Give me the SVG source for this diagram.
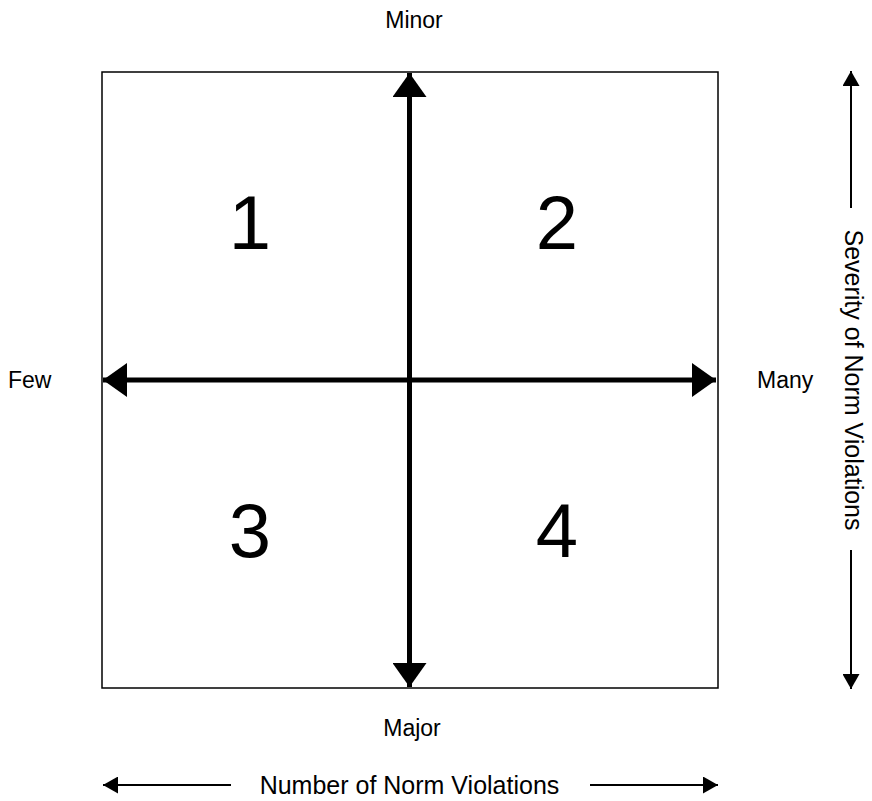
<svg xmlns="http://www.w3.org/2000/svg" width="872" height="801" viewBox="0 0 872 801">
<style>
.t{font-family:"Liberation Sans",Arial,sans-serif;fill:#000}
.lbl{font-size:23px}
.ax{font-size:25px}
.num{font-size:76px;text-anchor:middle}
.thick{stroke:#000;stroke-width:5;fill:none}
.thin{stroke:#000;stroke-width:2;fill:none}
</style>
<defs>
<marker id="big" viewBox="0 0 24 34" refX="24" refY="17" markerWidth="24" markerHeight="34" markerUnits="userSpaceOnUse" orient="auto">
<path d="M0,0 L24,17 L0,34 Z" fill="#000"/>
</marker>
<marker id="small" viewBox="0 0 15 17" refX="15" refY="8.5" markerWidth="15" markerHeight="17" markerUnits="userSpaceOnUse" orient="auto">
<path d="M0,0 L15,8.5 L0,17 Z" fill="#000"/>
</marker>
</defs>
<rect id="frame" x="102" y="72" width="616" height="616" fill="#fff" stroke="#000" stroke-width="1.5"/>
<g id="connectors">
<line class="thick" x1="409.5" y1="380" x2="409.5" y2="73" marker-end="url(#big)"/>
<line class="thick" x1="409.5" y1="380" x2="409.5" y2="687" marker-end="url(#big)"/>
<line class="thick" x1="409.5" y1="380" x2="103" y2="380" marker-end="url(#big)"/>
<line class="thick" x1="409.5" y1="380" x2="716" y2="380" marker-end="url(#big)"/>
<line class="thin" x1="851" y1="208" x2="851" y2="71" marker-end="url(#small)"/>
<line class="thin" x1="851" y1="550" x2="851" y2="689" marker-end="url(#small)"/>
<line class="thin" x1="231" y1="785" x2="103" y2="785" marker-end="url(#small)"/>
<line class="thin" x1="590" y1="785" x2="718" y2="785" marker-end="url(#small)"/>
</g>
<g id="q1"><text class="t num" x="250" y="249">1</text></g>
<g id="q2"><text class="t num" x="557" y="249">2</text></g>
<g id="q3"><text class="t num" x="250" y="557">3</text></g>
<g id="q4"><text class="t num" x="557" y="557">4</text></g>
<g id="minor"><text class="t lbl" x="414" y="28" text-anchor="middle">Minor</text></g>
<g id="major"><text class="t lbl" x="412" y="736" text-anchor="middle">Major</text></g>
<g id="few"><text class="t lbl" x="8" y="388">Few</text></g>
<g id="many"><text class="t lbl" x="757" y="388">Many</text></g>
<g id="xaxis"><text class="t ax" x="409.5" y="794" text-anchor="middle">Number of Norm Violations</text></g>
<g id="yaxis"><text class="t ax" transform="translate(844.5,380) rotate(90)" text-anchor="middle">Severity of Norm Violations</text></g>
</svg>
